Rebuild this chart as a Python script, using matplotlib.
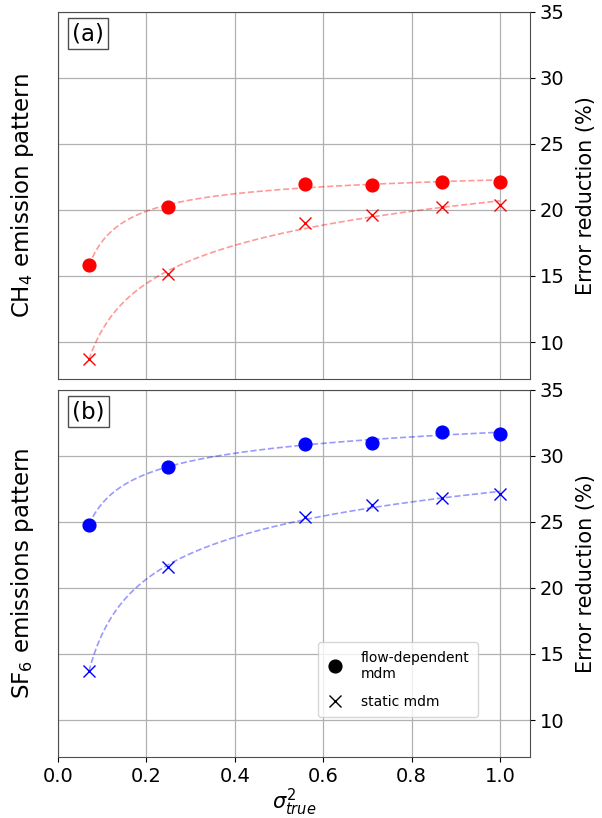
import matplotlib

matplotlib.use("Agg")
import matplotlib.pyplot as plt
import numpy as np
from matplotlib.lines import Line2D

sigma2 = [0.07, 0.25, 0.56, 0.71, 0.87, 1.0]

ch4_flow = [15.8, 20.25, 22.0, 21.9, 22.15, 22.15]
ch4_static = [8.7, 15.15, 19.0, 19.6, 20.25, 20.35]

sf6_flow = [24.8, 29.2, 30.9, 31.0, 31.85, 31.7]
sf6_static = [13.7, 21.6, 25.4, 26.25, 26.8, 27.1]

panel_labels = ["(a)", "(b)"]
left_labels = ["CH$_4$ emission pattern", "SF$_6$ emissions pattern"]
yticks = [10, 15, 20, 25, 30, 35]
xticks = [0.0, 0.2, 0.4, 0.6, 0.8, 1.0]


def _fit_curve(x, y):
    # least squares on [1, ln x, 1/x] to get a smooth saturating trend line
    x = np.asarray(x)
    basis = np.column_stack([np.ones_like(x), np.log(x), 1 / x])
    coef, *_ = np.linalg.lstsq(basis, np.asarray(y), rcond=None)
    xs = np.linspace(x.min(), x.max(), 200)
    ys = coef[0] + coef[1] * np.log(xs) + coef[2] / xs
    return xs, ys


fig = plt.figure(figsize=(6.02, 8.18), dpi=100)
ax_top = fig.add_axes([0.0963, 0.5367, 0.784, 0.4487])
ax_bot = fig.add_axes([0.0963, 0.0746, 0.784, 0.4487], sharex=ax_top)

panels = [
    (ax_top, ch4_flow, ch4_static, "red"),
    (ax_bot, sf6_flow, sf6_static, "blue"),
]

for i, (ax, flow, static, color) in enumerate(panels):
    for series, marker in [(flow, "o"), (static, "x")]:
        xs, ys = _fit_curve(sigma2, series)
        ax.plot(xs, ys, "--", color=color, alpha=0.4, linewidth=1.2)
        ax.plot(sigma2, series, linestyle="none", marker=marker, color=color,
                markersize=9.2, markeredgewidth=1.0)

    ax.set_xlim(0, 1.068)
    ax.set_ylim(7.2, 35)
    ax.set_yticks(yticks)
    ax.set_xticks(xticks)
    ax.yaxis.tick_right()
    ax.yaxis.set_label_position("right")
    ax.set_ylabel("Error reduction (%)", fontsize=15, labelpad=8)
    ax.tick_params(labelsize=14)
    ax.grid(True, color="#b0b0b0", linewidth=0.9)
    for spine in ax.spines.values():
        spine.set_color("0.3")
    ax.text(-0.075, 0.5, left_labels[i], transform=ax.transAxes, rotation=90,
            ha="center", va="center", fontsize=16.5)
    ax.text(0.03, 0.972, panel_labels[i], transform=ax.transAxes, ha="left", va="top",
            fontsize=16.5, bbox=dict(facecolor="white", edgecolor="0.3", pad=3))

ax_top.tick_params(axis="x", labelbottom=False, length=0)
ax_bot.set_xlabel(r"$\sigma^2_{true}$", fontsize=15, labelpad=1)

handles = [
    Line2D([], [], linestyle="none", marker="o", color="black", markersize=9.2),
    Line2D([], [], linestyle="none", marker="x", color="black", markersize=9.2),
]
ax_bot.legend(handles, ["flow-dependent\nmdm", "static mdm"], loc="lower left",
              bbox_to_anchor=(0.551, 0.109), borderaxespad=0, fontsize=10,
              labelspacing=1.0, borderpad=0.6, handlelength=1.2, handletextpad=1.3)

fig.savefig("out.png", dpi=100)
